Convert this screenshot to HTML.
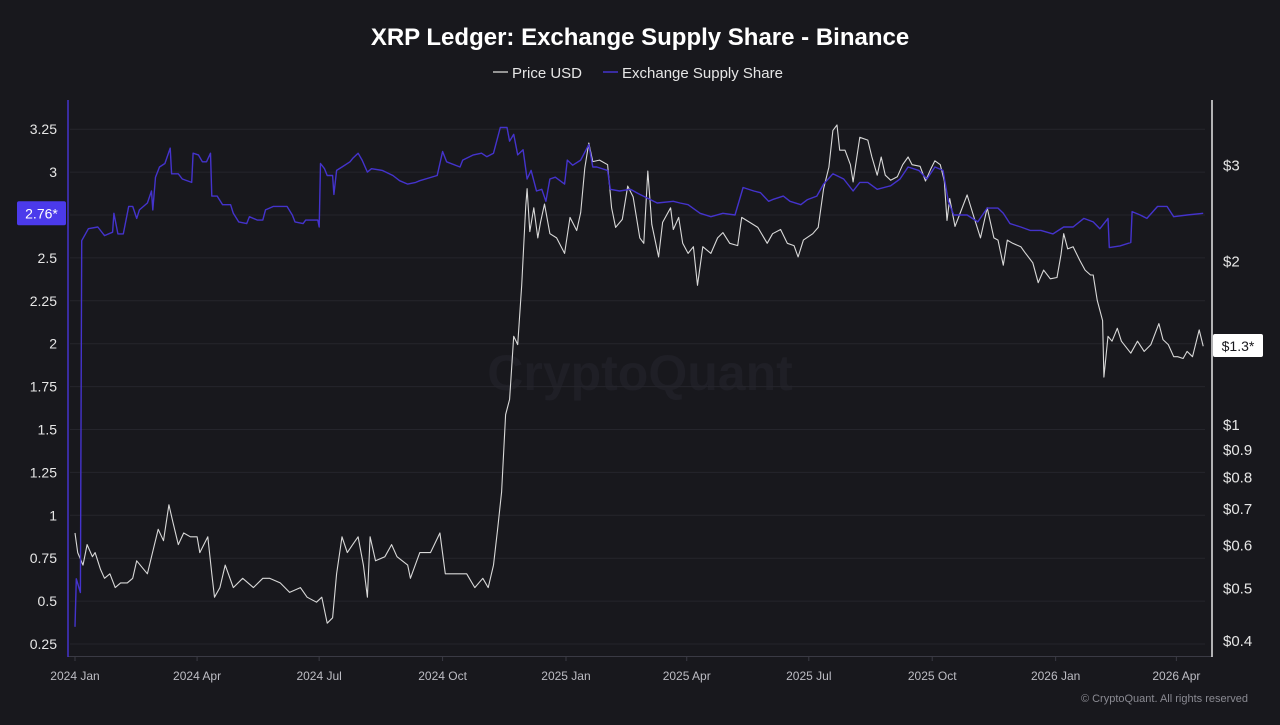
<!DOCTYPE html>
<html><head><meta charset="utf-8">
<style>
html,body{margin:0;padding:0;background:#18181d;}
body{width:1280px;height:720px;overflow:hidden;font-family:"Liberation Sans",sans-serif;}
svg text{font-family:"Liberation Sans",sans-serif;}
</style></head>
<body>
<svg id="chart" width="1280" height="720" viewBox="0 0 1280 720">
<rect x="0" y="0" width="1280" height="720" fill="#18181d"/>
<text x="640" y="45" text-anchor="middle" fill="#ffffff" font-size="24" font-weight="bold">XRP Ledger: Exchange Supply Share - Binance</text>
<g>
<g>
<line x1="493" y1="72" x2="508" y2="72" stroke="#bdbdbd" stroke-width="1.5"/>
<text x="512" y="78" fill="#e6e6e6" font-size="15">Price USD</text></g>
<g>
<line x1="603" y1="72" x2="618" y2="72" stroke="#4433cc" stroke-width="1.5"/>
<text x="622" y="78" fill="#e6e6e6" font-size="15">Exchange Supply Share</text></g>
</g>
<text x="640" y="390" text-anchor="middle" fill="#1f1f26" font-size="50" font-weight="bold">CryptoQuant</text>
<g id="grid"></g>
<g id="xaxis"></g>
<g id="yleft"></g>
<g id="yright"></g>
<g id="series"></g>
<g id="badges"></g>
<text x="1248" y="702" text-anchor="end" fill="#8a8a92" font-size="11">© CryptoQuant. All rights reserved</text>
</svg>
<script>
// days since 2024-01-01
const shareDays=[0,1,4,5,10,17,22,28,29,32,36,40,43,46,48,54,57,58,60,63,67,71,72,77,80,87,88,92,95,98,101,102,106,110,116,118,122,128,130,136,140,142,148,158,162,164,170,172,181,182,183,186,188,192,193,195,199,205,207,211,214,218,221,229,237,242,248,254,257,270,274,277,287,289,297,303,307,312,317,322,324,327,330,334,337,340,344,348,351,354,358,365,367,371,377,383,386,389,397,399,406,414,421,434,446,451,457,466,474,483,492,498,506,511,517,520,528,533,541,546,553,558,565,573,580,585,591,598,608,615,621,629,635,641,647,651,655,665,673,680,688,692,697,705,712,720,729,737,744,752,759,764,770,771,779,787,788,794,799,807,814,819,829,841];
const shareVals=[0.35,0.63,0.55,2.60,2.67,2.68,2.63,2.65,2.76,2.64,2.64,2.80,2.80,2.73,2.78,2.82,2.89,2.78,2.97,3.03,3.05,3.14,2.99,2.99,2.96,2.94,3.11,3.10,3.06,3.06,3.11,2.86,2.86,2.81,2.81,2.76,2.71,2.70,2.74,2.72,2.72,2.78,2.80,2.80,2.75,2.71,2.70,2.72,2.72,2.68,3.05,3.02,2.98,2.98,2.87,3.01,3.03,3.06,3.08,3.11,3.07,3.00,3.02,3.01,2.98,2.95,2.93,2.94,2.95,2.98,3.12,3.06,3.03,3.07,3.10,3.11,3.09,3.11,3.26,3.26,3.18,3.22,3.10,3.13,2.96,3.01,2.89,2.90,2.83,2.96,2.97,2.93,3.07,3.04,3.07,3.16,3.03,3.03,3.01,2.90,2.89,2.90,2.87,2.82,2.83,2.82,2.81,2.76,2.74,2.76,2.75,2.91,2.89,2.88,2.83,2.84,2.86,2.83,2.81,2.84,2.86,2.93,2.99,2.96,2.89,2.94,2.94,2.90,2.92,2.96,3.03,3.01,2.96,3.03,3.01,2.83,2.75,2.75,2.71,2.79,2.79,2.76,2.70,2.68,2.66,2.66,2.64,2.68,2.68,2.73,2.71,2.67,2.73,2.56,2.57,2.59,2.77,2.75,2.73,2.80,2.80,2.74,2.75,2.76];
const priceDays=[0,2,6,9,13,15,19,22,26,30,34,39,43,46,54,57,62,66,70,73,77,81,86,91,93,99,102,104,108,112,118,125,133,140,145,153,160,168,173,180,184,188,192,195,199,203,207,211,215,218,220,224,231,236,240,248,250,257,265,272,276,285,292,298,304,308,312,315,318,321,324,327,330,333,336,337,339,342,345,347,350,354,359,365,369,374,377,380,383,386,391,397,400,403,408,412,416,421,424,427,430,435,438,444,446,450,453,457,461,464,468,474,479,483,488,494,497,503,509,516,520,526,531,536,539,543,550,554,558,562,565,568,570,574,578,580,585,591,594,598,601,604,608,613,617,621,624,630,634,638,641,645,648,650,652,656,660,665,669,675,680,685,688,692,695,699,705,708,714,718,722,727,732,735,737,740,744,749,753,757,759,762,766,767,770,773,777,780,787,792,797,802,808,811,815,819,822,826,829,833,838,841];
const priceVals=[0.63,0.58,0.55,0.60,0.57,0.58,0.54,0.52,0.53,0.50,0.51,0.51,0.52,0.56,0.53,0.57,0.64,0.61,0.71,0.66,0.60,0.63,0.62,0.62,0.58,0.62,0.53,0.48,0.50,0.55,0.50,0.52,0.50,0.52,0.52,0.51,0.49,0.50,0.48,0.47,0.48,0.43,0.44,0.53,0.62,0.58,0.60,0.62,0.55,0.48,0.62,0.56,0.57,0.60,0.57,0.55,0.52,0.58,0.58,0.63,0.53,0.53,0.53,0.50,0.52,0.50,0.55,0.64,0.75,1.04,1.11,1.45,1.40,1.80,2.51,2.71,2.26,2.50,2.20,2.35,2.54,2.24,2.20,2.06,2.40,2.27,2.45,2.96,3.29,3.04,3.06,3.00,2.50,2.30,2.38,2.74,2.62,2.20,2.15,2.92,2.33,2.03,2.35,2.50,2.28,2.40,2.15,2.06,2.12,1.80,2.12,2.06,2.20,2.25,2.15,2.13,2.40,2.35,2.30,2.15,2.24,2.28,2.15,2.13,2.03,2.18,2.24,2.30,2.71,2.97,3.47,3.55,3.19,3.19,3.00,2.79,3.37,3.33,3.10,2.87,3.10,2.87,2.81,2.85,3.00,3.10,3.00,2.98,2.80,2.95,3.05,3.00,2.80,2.37,2.60,2.31,2.45,2.64,2.45,2.20,2.50,2.20,2.18,1.96,2.18,2.15,2.12,2.07,1.98,1.82,1.92,1.85,1.86,2.05,2.24,2.10,2.12,2.00,1.92,1.88,1.88,1.69,1.55,1.22,1.45,1.42,1.50,1.42,1.35,1.42,1.36,1.40,1.53,1.43,1.40,1.33,1.33,1.32,1.36,1.33,1.49,1.39];
const leftTicks=[3.25,3,2.75,2.5,2.25,2,1.75,1.5,1.25,1,0.75,0.5,0.25];
const rightTicks=[3,2,1,0.9,0.8,0.7,0.6,0.5,0.4];
const xTickLabels=["2024 Jan","2024 Apr","2024 Jul","2024 Oct","2025 Jan","2025 Apr","2025 Jul","2025 Oct","2026 Jan","2026 Apr"];
const xTickDays=[0,91,182,274,366,456,547,639,731,821];
const lastShare=2.76, lastPrice=1.3;

const NS="http://www.w3.org/2000/svg";
const X=d=>75+d*1.3415;
const YL=v=>644-(v-0.25)*171.6;
const YR=p=>424-236*Math.log(p);
function mk(tag,attrs,parent){const e=document.createElementNS(NS,tag);for(const k in attrs)e.setAttribute(k,attrs[k]);parent.appendChild(e);return e;}
const grid=document.getElementById('grid'),xa=document.getElementById('xaxis'),yl=document.getElementById('yleft'),yr=document.getElementById('yright'),se=document.getElementById('series'),bd=document.getElementById('badges');

leftTicks.forEach(v=>{
  const g=mk('line',{x1:70,x2:1205,y1:YL(v),y2:YL(v),stroke:'#25252c','stroke-width':1},grid);
  
  
  const t=mk('text',{x:57,y:YL(v)+5,'text-anchor':'end',fill:'#e6e6e6','font-size':14},yl);
  t.textContent=String(v);
  
  
});
const la=mk('line',{x1:68,x2:68,y1:100,y2:657,stroke:'#4433cc','stroke-width':1.5},yl);


const ra=mk('line',{x1:1212,x2:1212,y1:100,y2:657,stroke:'#e6e6e6','stroke-width':1.5},yr);


rightTicks.forEach(p=>{
  const t=mk('text',{x:1223,y:YR(p)+6,fill:'#e6e6e6','font-size':15},yr);
  t.textContent='$'+p;
  
  
});
const xl=mk('line',{x1:68,x2:1212,y1:656.5,y2:656.5,stroke:'#3a3a44','stroke-width':1},xa);


xTickLabels.forEach((s,i)=>{
  const tk=mk('line',{x1:X(xTickDays[i]),x2:X(xTickDays[i]),y1:656,y2:661,stroke:'#3a3a44'},xa);
  
  
  const t=mk('text',{x:X(xTickDays[i]),y:680,'text-anchor':'middle',fill:'#bdbdc4','font-size':12},xa);
  t.textContent=s;
  
  
});
const pp=priceDays.map((d,i)=>X(d).toFixed(1)+','+YR(priceVals[i]).toFixed(1)).join(' ');
const pl=mk('polyline',{points:pp,fill:'none',stroke:'#d8d8d8','stroke-width':1.1,'stroke-linejoin':'round'},se);


const sp=shareDays.map((d,i)=>X(d).toFixed(1)+','+YL(shareVals[i]).toFixed(1)).join(' ');
const sl=mk('polyline',{points:sp,fill:'none',stroke:'#4433cc','stroke-width':1.4,'stroke-linejoin':'round'},se);



const b1=mk('rect',{x:17,y:YL(lastShare)-12,width:49,height:24,rx:2,fill:'#4b3aeb'},bd);


const t1=mk('text',{x:41.5,y:YL(lastShare)+5,'text-anchor':'middle',fill:'#ffffff','font-size':14},bd);
t1.textContent=lastShare+'*';


const b2=mk('rect',{x:1213,y:334,width:50,height:23,rx:2,fill:'#ffffff'},bd);


const t2=mk('text',{x:1238,y:351,'text-anchor':'middle',fill:'#18181d','font-size':14},bd);
t2.textContent='$'+lastPrice+'*';


</script>
</body></html>
